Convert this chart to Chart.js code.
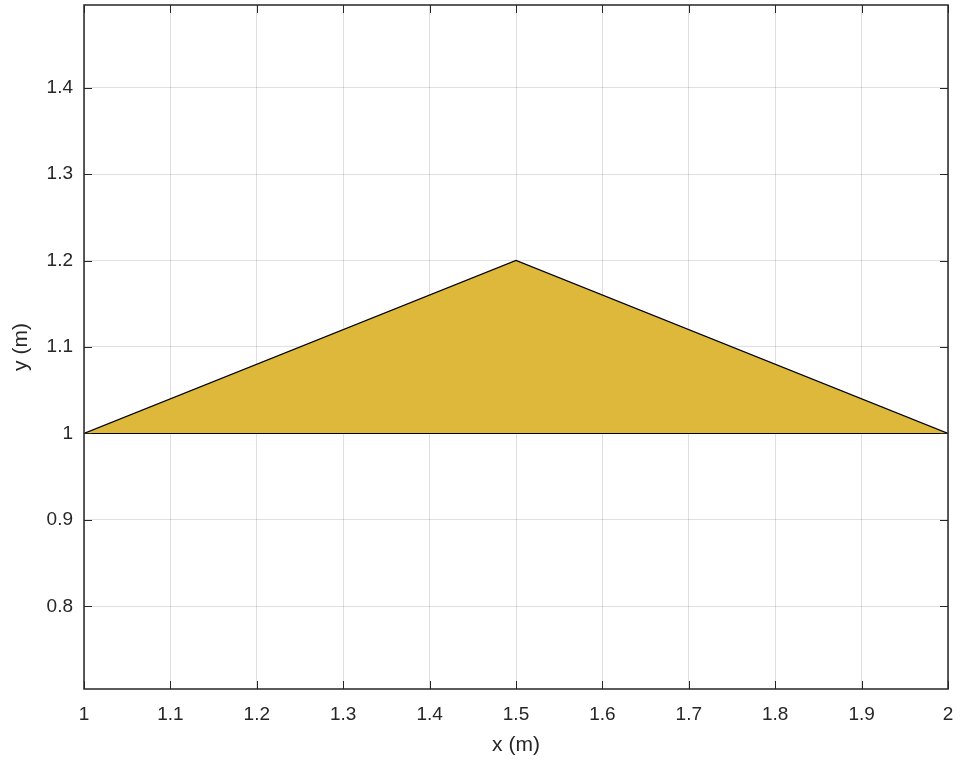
<!DOCTYPE html>
<html>
<head>
<meta charset="utf-8">
<script src="https://cdn.jsdelivr.net/npm/chart.js@4/dist/chart.umd.min.js"></script>
<style>
  html, body { margin: 0; padding: 0; background: #fff; }
  #wrap { width: 962px; height: 765px; }
</style>
</head>
<body>
<div id="wrap"><canvas id="chart" width="962" height="765"></canvas></div>
<script>
// polygon vertices (closed)
var xPts = [1, 1.5, 2, 1];
var yPts = [1, 1.2, 1, 1];
var xTicks = [1, 1.1, 1.2, 1.3, 1.4, 1.5, 1.6, 1.7, 1.8, 1.9, 2];
var yTicks = [0.8, 0.9, 1, 1.1, 1.2, 1.3, 1.4];

var axisColor = '#262626';
var fontFam = 'Liberation Sans, Arial, sans-serif';

// box round the plot with inward ticks on all four sides
var boxPlugin = {
    id: 'box',
    afterDraw: function (chart) {
        var ctx = chart.ctx;
        var a = chart.chartArea;
        var xs = chart.scales.x, ys = chart.scales.y;
        ctx.save();
        ctx.strokeStyle = axisColor;
        ctx.lineWidth = 1;
        ctx.beginPath();
        xTicks.forEach(function (v) {
            var px = Math.round(xs.getPixelForValue(v)) + 0.5;
            ctx.moveTo(px, a.bottom); ctx.lineTo(px, a.bottom - 8);
            ctx.moveTo(px, a.top); ctx.lineTo(px, a.top + 8);
        });
        yTicks.forEach(function (v) {
            var py = Math.round(ys.getPixelForValue(v)) + 0.5;
            ctx.moveTo(a.left, py); ctx.lineTo(a.left + 8, py);
            ctx.moveTo(a.right, py); ctx.lineTo(a.right - 8, py);
        });
        ctx.stroke();
        ctx.lineWidth = 1.5;
        ctx.strokeRect(a.left, a.top, a.right - a.left, a.bottom - a.top);
        ctx.restore();
    }
};

var pts = xPts.map(function (x, i) { return {x: x, y: yPts[i]}; });

var canvas = document.getElementById('chart').getContext('2d');
new Chart(canvas, {
    type: 'scatter',
    data: {
        datasets: [{
            data: pts,
            showLine: true,
            fill: 'shape',
            backgroundColor: '#DEB83A',
            borderColor: '#000000',
            borderWidth: 1.2,
            pointRadius: 0,
            tension: 0
        }]
    },
    options: {
        responsive: false,
        animation: false,
        layout: { padding: { left: 0, top: 5, right: 14, bottom: 0 } },
        plugins: { legend: { display: false }, tooltip: { enabled: false } },
        scales: {
            x: {
                type: 'linear',
                min: 1, max: 2,
                afterBuildTicks: function (s) { s.ticks = xTicks.map(function (v) { return {value: v}; }); },
                afterFit: function (s) { s.height = 76; s.paddingLeft = 0; s.paddingRight = 0; },
                grid: { color: 'rgba(38,38,38,0.15)', drawTicks: false },
                border: { display: false },
                ticks: {
                    padding: 14,
                    color: axisColor,
                    font: { family: fontFam, size: 19 },
                    maxRotation: 0,
                    callback: function (v) { return String(Math.round(v * 10) / 10); }
                },
                title: {
                    display: true, text: 'x (m)', color: axisColor,
                    font: { family: fontFam, size: 21 },
                    padding: { top: 0, bottom: 7 }
                }
            },
            y: {
                type: 'linear',
                min: 0.7046, max: 1.4954,
                afterBuildTicks: function (s) { s.ticks = yTicks.map(function (v) { return {value: v}; }); },
                afterFit: function (s) { s.width = 84; s.paddingTop = 0; s.paddingBottom = 0; },
                grid: { color: 'rgba(38,38,38,0.15)', drawTicks: false },
                border: { display: false },
                ticks: {
                    padding: 11,
                    color: axisColor,
                    font: { family: fontFam, size: 19 },
                    callback: function (v) { return String(Math.round(v * 10) / 10); }
                },
                title: {
                    display: true, text: 'y (m)', color: axisColor,
                    font: { family: fontFam, size: 21 },
                    padding: { top: 9, bottom: 0 }
                }
            }
        }
    },
    plugins: [boxPlugin]
});
</script>
</body>
</html>
